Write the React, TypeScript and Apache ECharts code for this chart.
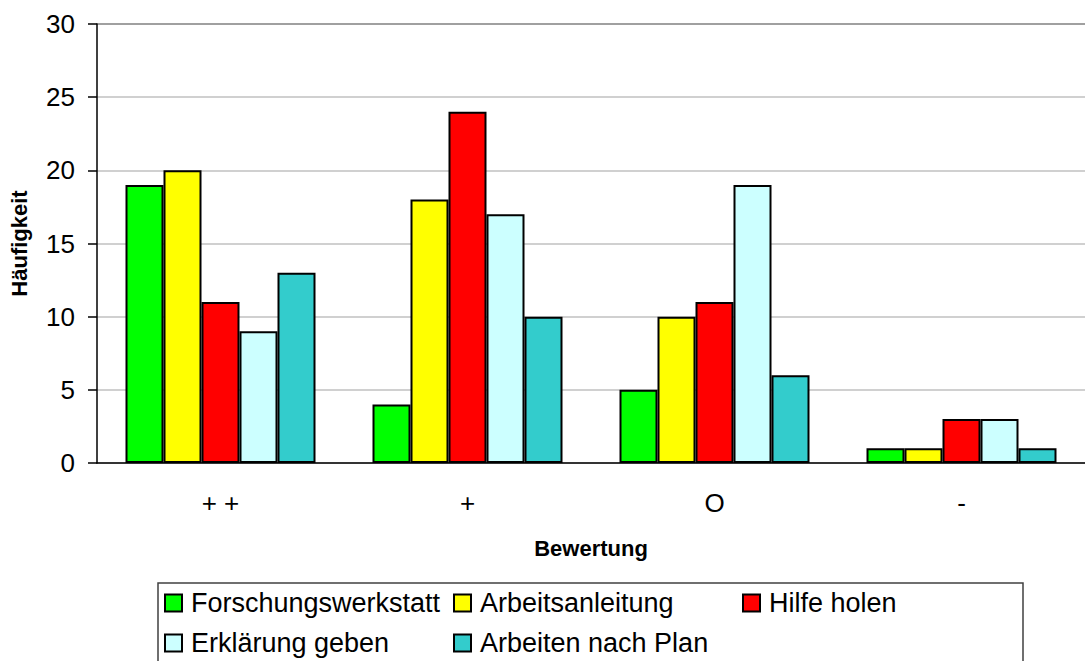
import React, { useEffect, useRef } from "react";
import * as echarts from "echarts";

const categories = ["+ +", "+", "O", "-"];
const seriesNames = ["Forschungswerkstatt", "Arbeitsanleitung", "Hilfe holen", "Erklärung geben", "Arbeiten nach Plan"];
const forschungswerkstatt = [19, 4, 5, 1];
const arbeitsanleitung = [20, 18, 10, 1];
const hilfeHolen = [11, 24, 11, 3];
const erklaerungGeben = [9, 17, 19, 3];
const arbeitenNachPlan = [13, 10, 6, 1];
const colors = ["#00ff00", "#ffff00", "#ff0000", "#ccffff", "#33cccc"];

export default function App() {
  const ref = useRef<HTMLDivElement>(null);
  useEffect(() => {
    const chart = echarts.init(ref.current!, undefined, { renderer: "svg" });
    const values = [forschungswerkstatt, arbeitsanleitung, hilfeHolen, erklaerungGeben, arbeitenNachPlan];
    const font = "Liberation Sans, Arial, sans-serif";
    chart.setOption({
      animation: false,
      textStyle: { fontFamily: font },
      grid: { left: 96, top: 24, right: 0, bottom: 198, containLabel: false },
      xAxis: {
        type: "category",
        data: categories,
        name: "Bewertung",
        nameLocation: "middle",
        nameGap: 74,
        nameTextStyle: { fontSize: 22, fontWeight: "bold", color: "#000", fontFamily: font },
        axisLine: { lineStyle: { color: "#000", width: 1.5 } },
        axisTick: { length: 9, lineStyle: { color: "#000", width: 1.5 } },
        axisLabel: { fontSize: 26, color: "#000", margin: 27, fontFamily: font },
      },
      yAxis: {
        type: "value",
        min: 0,
        max: 30,
        interval: 5,
        name: "Häufigkeit",
        nameLocation: "middle",
        nameGap: 67,
        nameTextStyle: { fontSize: 22, fontWeight: "bold", color: "#000", fontFamily: font },
        axisLine: { show: true, lineStyle: { color: "#000", width: 1.5 } },
        axisTick: { show: true, length: 9, lineStyle: { color: "#000", width: 1.5 } },
        axisLabel: { fontSize: 26, color: "#000", margin: 22, fontFamily: font },
        splitLine: {
          lineStyle: {
            color: ["#c0c0c0", "#c0c0c0", "#c0c0c0", "#c0c0c0", "#c0c0c0", "#c0c0c0", "#808080"],
            width: 1.5,
          },
        },
      },
      legend: {
        left: 164,
        top: 583,
        width: 870,
        orient: "horizontal",
        itemWidth: 17,
        itemHeight: 17,
        itemGap: 0,
        padding: 0,
        icon: "rect",
        data: seriesNames.map((n) => ({ name: n, itemStyle: { borderColor: "#000", borderWidth: 2 } })),
        textStyle: { fontSize: 27, color: "#000", width: 262, fontFamily: font, padding: [0, 0, 0, 4], lineHeight: 40 },
      },
      graphic: [
        {
          type: "rect",
          shape: { x: 158, y: 583, width: 865, height: 100 },
          style: { fill: "none", stroke: "#404040", lineWidth: 1.5 },
          silent: true,
        },
      ],
      series: seriesNames.map((name, i) => ({
        name,
        type: "bar",
        data: values[i],
        barWidth: 38,
        barGap: "0%",
        itemStyle: { color: colors[i], borderColor: "#000", borderWidth: 2 },
      })),
    });
    return () => chart.dispose();
  }, []);
  return <div ref={ref} style={{ position: "absolute", left: 0, top: 0, width: 1085, height: 661 }} />;
}
